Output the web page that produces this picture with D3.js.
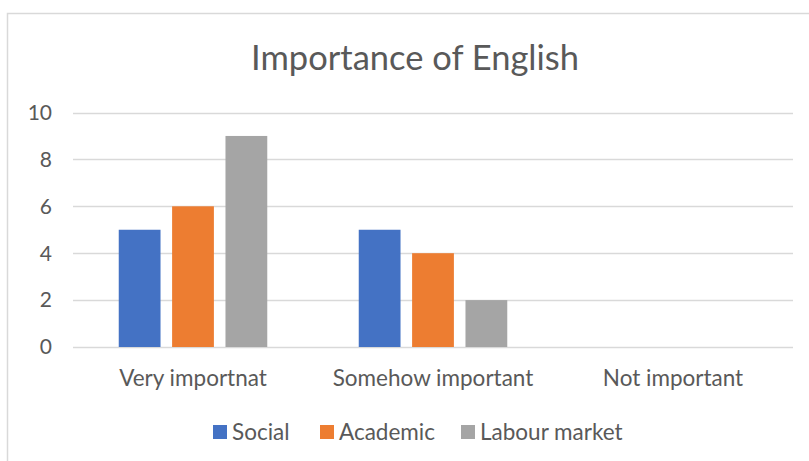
<!DOCTYPE html>
<html>
<head>
<meta charset="utf-8">
<script src="https://cdn.jsdelivr.net/npm/d3@7"></script>
<style>
  body { margin: 0; background: #fff; }
  text { font-family: Lato, "Open Sans", sans-serif; fill: #595959; }
</style>
</head>
<body>
<svg id="chart" width="809" height="461"></svg>
<script>
// data
var categories = ["Very importnat", "Somehow important", "Not important"];
var series = ["Social", "Academic", "Labour market"];
var social = [5, 5, 0];
var academic = [6, 4, 0];
var labour = [9, 2, 0];
var yTicks = [0, 2, 4, 6, 8, 10];
var colors = ["#4472C4", "#ED7D31", "#A5A5A5"];

var values = [social, academic, labour];

var svg = d3.select("#chart"),
  width = +svg.attr("width"),
  height = +svg.attr("height");

// chart frame
svg.append("rect")
  .attr("x", 7.5).attr("y", 13.5)
  .attr("width", 900).attr("height", 600)
  .attr("fill", "none")
  .attr("stroke", "#D9D9D9")
  .attr("stroke-width", 1.5);

svg.append("text")
  .attr("x", 415).attr("y", 70)
  .attr("text-anchor", "middle")
  .style("font-size", "34.5px")
  .text("Importance of English");

var plotLeft = 73, plotRight = 793, plotTop = 112.5, plotBottom = 347;

var y = d3.scaleLinear().domain([0, 10]).range([plotBottom, plotTop]);
var x0 = d3.scaleBand().domain(categories).range([plotLeft, plotRight]);
var x1 = d3.scaleBand().domain(series).range([0, x0.bandwidth()])
  .paddingInner(0.217).paddingOuter(0.857);

// gridlines
svg.append("g")
  .selectAll("line")
  .data(yTicks)
  .enter().append("line")
  .attr("x1", plotLeft).attr("x2", plotRight)
  .attr("y1", d => Math.round(y(d)) + 0.5)
  .attr("y2", d => Math.round(y(d)) + 0.5)
  .attr("stroke", "#D9D9D9")
  .attr("stroke-width", 1.3);

// y labels
svg.append("g")
  .selectAll("text")
  .data(yTicks)
  .enter().append("text")
  .attr("x", 52)
  .attr("y", d => y(d))
  .attr("dy", "0.35em")
  .attr("text-anchor", "end")
  .style("font-size", "21px")
  .text(d => d);

// bars
var groups = svg.append("g")
  .selectAll("g")
  .data(categories)
  .enter().append("g")
  .attr("transform", d => "translate(" + x0(d) + ",0)");

groups.selectAll("rect")
  .data((c, ci) => series.map((s, si) => ({ s: s, v: values[si][ci], i: si })))
  .enter().append("rect")
  .attr("x", d => x1(d.s))
  .attr("width", x1.bandwidth())
  .attr("y", d => y(d.v))
  .attr("height", d => y(0) - y(d.v))
  .attr("fill", d => colors[d.i]);

// category labels
svg.append("g")
  .selectAll("text")
  .data(categories)
  .enter().append("text")
  .attr("x", d => x0(d) + x0.bandwidth() / 2)
  .attr("y", 386)
  .attr("text-anchor", "middle")
  .style("font-size", "22.5px")
  .text(d => d);

// legend
var legendX = [213, 320, 461];
var legend = svg.append("g")
  .selectAll("g")
  .data(series)
  .enter().append("g")
  .attr("transform", (d, i) => "translate(" + legendX[i] + ",425)");
legend.append("rect")
  .attr("width", 14).attr("height", 14)
  .attr("fill", (d, i) => colors[i]);
legend.append("text")
  .attr("x", 19).attr("y", 15)
  .style("font-size", "22.5px")
  .text(d => d);
</script>
</body>
</html>
